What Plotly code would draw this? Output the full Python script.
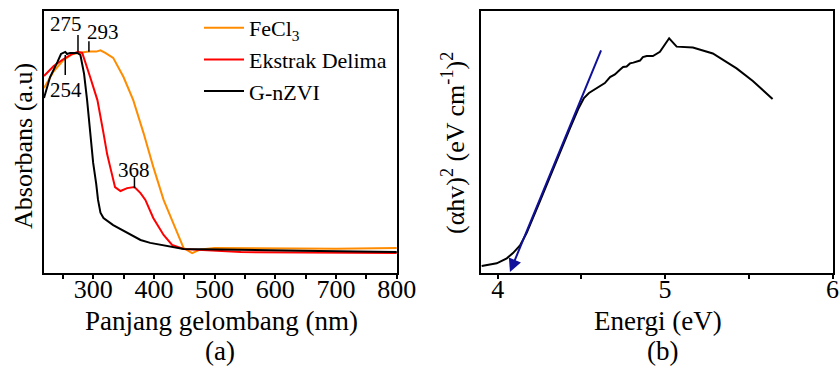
import plotly.graph_objects as go

# ---- Panel (a): UV-Vis absorbance ----
fecl3_x = [219, 235, 250, 265, 275, 293, 305, 312, 320, 333, 350, 366, 383, 399, 416, 432, 449, 463, 477, 500, 550, 600, 700, 800]
fecl3_y = [0.706, 0.77, 0.81, 0.835, 0.84, 0.845, 0.845, 0.85, 0.84, 0.821, 0.748, 0.66, 0.534, 0.405, 0.279, 0.191, 0.095, 0.076, 0.09, 0.095, 0.094, 0.093, 0.093, 0.095]

delima_x = [219, 235, 250, 265, 275, 282, 295, 307, 317, 323, 328, 336, 345, 356, 368, 378, 386, 399, 416, 430, 449, 543, 800]
delima_y = [0.752, 0.79, 0.815, 0.835, 0.844, 0.840, 0.748, 0.66, 0.534, 0.454, 0.405, 0.328, 0.313, 0.324, 0.328, 0.305, 0.279, 0.21, 0.145, 0.107, 0.092, 0.08, 0.076]

gnzvi_x = [219, 229, 241, 247, 254, 257, 262, 274, 279, 285, 290, 295, 300, 305, 308, 312, 317, 333, 356, 378, 394, 432, 449, 642, 800]
gnzvi_y = [0.668, 0.748, 0.805, 0.836, 0.844, 0.836, 0.840, 0.840, 0.832, 0.76, 0.66, 0.534, 0.42, 0.34, 0.279, 0.23, 0.21, 0.183, 0.153, 0.126, 0.115, 0.099, 0.092, 0.085, 0.080]

peak_x = [254, 275, 293, 368]
peak_y0 = [0.832, 0.844, 0.844, 0.324]
peak_y1 = [0.756, 0.908, 0.885, 0.366]
peak_label_x = [255, 255, 316, 368]
peak_label_y = [0.700, 0.952, 0.921, 0.395]
peak_labels = ["254", "275", "293", "368"]

# ---- Panel (b): Tauc plot ----
tauc_x = [3.904, 3.994, 4.054, 4.091, 4.133, 4.173, 4.253, 4.342, 4.432, 4.48, 4.515, 4.545, 4.575, 4.611, 4.64, 4.671, 4.70, 4.73, 4.749, 4.77, 4.79, 4.81, 4.830, 4.85, 4.867, 4.89, 4.927, 4.95, 4.969, 5.024, 5.069, 5.166, 5.285, 5.427, 5.524, 5.642]
tauc_y = [0.027, 0.037, 0.056, 0.076, 0.105, 0.153, 0.275, 0.416, 0.553, 0.625, 0.668, 0.687, 0.700, 0.714, 0.725, 0.748, 0.758, 0.776, 0.786, 0.788, 0.80, 0.803, 0.807, 0.811, 0.824, 0.828, 0.828, 0.838, 0.844, 0.896, 0.864, 0.861, 0.838, 0.781, 0.733, 0.664]

fit_x = [4.621, 4.073]
fit_y = [0.855, 0.004]

SERIF = "Liberation Serif, Times New Roman, serif"
W, H = 839, 368

fig = go.Figure()
fig.add_trace(go.Scatter(x=fecl3_x, y=fecl3_y, mode="lines", name="FeCl<sub>3</sub>",
                         line=dict(color="#FF8C00", width=2), xaxis="x", yaxis="y"))
fig.add_trace(go.Scatter(x=delima_x, y=delima_y, mode="lines", name="Ekstrak Delima",
                         line=dict(color="#FF0000", width=2), xaxis="x", yaxis="y"))
fig.add_trace(go.Scatter(x=gnzvi_x, y=gnzvi_y, mode="lines", name="G-nZVI",
                         line=dict(color="black", width=2), xaxis="x", yaxis="y"))
fig.add_trace(go.Scatter(x=tauc_x, y=tauc_y, mode="lines", showlegend=False,
                         line=dict(color="black", width=2), xaxis="x2", yaxis="y2"))

shapes = []
annotations = []
for px, y0, y1 in zip(peak_x, peak_y0, peak_y1):
    shapes.append(dict(type="line", xref="x", yref="y", x0=px, x1=px, y0=y0, y1=y1,
                       line=dict(color="black", width=1.5)))
for lx, ly, t in zip(peak_label_x, peak_label_y, peak_labels):
    annotations.append(dict(x=lx, y=ly, xref="x", yref="y", text=t, showarrow=False,
                            font=dict(family=SERIF, size=21, color="black")))

# Tangent line with arrow
annotations.append(dict(x=fit_x[1], y=fit_y[1], ax=fit_x[0], ay=fit_y[0],
                        xref="x2", yref="y2", axref="x2", ayref="y2", text="",
                        showarrow=True, arrowhead=2, arrowsize=1.3, arrowwidth=2,
                        arrowcolor="#10109A"))

# Axis titles and panel labels
def add_text(x, y, text, size=27, angle=0):
    annotations.append(dict(x=x / W, y=1 - y / H, xref="paper", yref="paper", text=text,
                            showarrow=False, textangle=angle,
                            font=dict(family=SERIF, size=size, color="black"),
                            xanchor="center", yanchor="middle"))

add_text(221, 321, "Panjang gelombang (nm)")
add_text(220, 351, "(a)")
add_text(658, 321, "Energi (eV)")
add_text(662, 351, "(b)")
add_text(23, 146, "Absorbans (a.u)", size=26, angle=-90)
add_text(453, 143, "(αhv)<sup>2</sup> (eV cm<sup>-1</sup>)<sup>2</sup>", size=26, angle=-90)

ydom = [1 - 273 / H, 1 - 11 / H]
axis_common = dict(showline=True, linecolor="black", linewidth=2, mirror=True,
                   showgrid=False, zeroline=False, automargin=False)

fig.update_layout(
    width=W, height=H, margin=dict(l=0, r=0, t=0, b=0, autoexpand=False),
    paper_bgcolor="white", plot_bgcolor="white",
    font=dict(family=SERIF, color="black"),
    xaxis=dict(domain=[44 / W, 397 / W], range=[219, 800.5], tick0=0, dtick=100,
               ticks="outside", ticklen=4, tickwidth=1.5, tickcolor="black",
               ticklabelstandoff=-12,
               tickfont=dict(family=SERIF, size=26, color="black"),
               minor=dict(dtick=50, ticks="outside", ticklen=4, tickwidth=1.5, tickcolor="black"),
               anchor="y", **axis_common),
    yaxis=dict(domain=ydom, range=[0, 1], showticklabels=False, ticks="", anchor="x", **axis_common),
    xaxis2=dict(domain=[481 / W, 833 / W], range=[3.9, 6.003], tick0=0, dtick=1,
                ticks="outside", ticklen=4, tickwidth=1.5, tickcolor="black",
                ticklabelstandoff=-12,
                tickfont=dict(family=SERIF, size=26, color="black"),
                minor=dict(dtick=0.5, ticks="outside", ticklen=4, tickwidth=1.5, tickcolor="black"),
                anchor="y2", **axis_common),
    yaxis2=dict(domain=ydom, range=[0, 1], showticklabels=False, ticks="", anchor="x2", **axis_common),
    legend=dict(x=199 / W, y=1 - 7 / H, xanchor="left", yanchor="top",
                bgcolor="rgba(0,0,0,0)", borderwidth=0,
                font=dict(family=SERIF, size=22, color="black"),
                tracegroupgap=0, itemwidth=40),
    shapes=shapes, annotations=annotations,
)

fig.write_html("out.html")
